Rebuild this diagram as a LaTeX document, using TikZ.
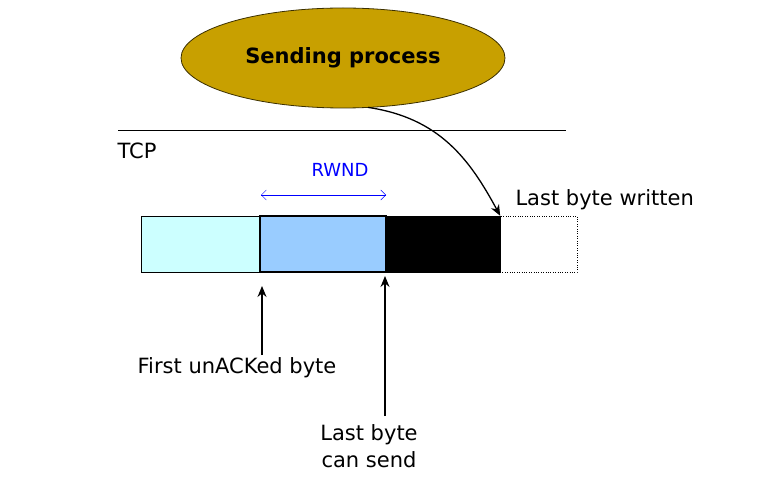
\documentclass[tikz,border=0pt]{standalone}
\usepackage{fontspec}
\setmainfont{DejaVu Sans}
\usetikzlibrary{shapes.geometric,arrows.meta}
\definecolor{gold}{RGB}{200,160,0}
\definecolor{lcyan}{RGB}{204,255,255}
\definecolor{lblue}{RGB}{153,204,255}
\tikzset{lbl/.style={font=\fontsize{21}{27}\selectfont,align=center},
  ptr/.style={-{Stealth[length=11pt,width=9pt]},line width=1.3pt}}
\begin{document}
\begin{tikzpicture}[x=1pt,y=-1pt]
\useasboundingbox (0,0) rectangle (768,486);
\node[ellipse,draw=black!70!gold,line width=0.8pt,fill=gold,minimum width=324pt,minimum height=100pt,font=\bfseries\fontsize{21}{25}\selectfont] (proc) at (343,58) {Sending process};
\coordinate (l1) at (118,131); \coordinate (l2) at (566,131);
\draw[line width=1pt] (l1) -- (l2);
\node[lbl,anchor=west] (tcp) at (114,151) {TCP};
\node[draw,fill=lcyan,minimum width=119pt,minimum height=56pt,inner sep=0pt] (b1) at (200.5,244) {};
\node[draw,fill=white,dotted,minimum width=77pt,minimum height=56pt,inner sep=0pt] (b4) at (538.5,244) {};
\node[draw,fill=black,minimum width=114pt,minimum height=56pt,inner sep=0pt] (b3) at (443,244) {};
\node[draw,line width=2pt,fill=lblue,minimum width=126pt,minimum height=56pt,inner sep=0pt] (b2) at (323,244) {};
\node[lbl,text=blue,font=\fontsize{18}{22}\selectfont] (rw) at (340,170) {RWND};
\coordinate (r1) at (261,195); \coordinate (r2) at (386,195);
\draw[{Straight Barb[length=5pt]}-{Straight Barb[length=5pt]},blue] (r1) -- (r2);
\node[lbl,anchor=west] (lbw) at (512,200) {Last byte written};
\draw[ptr] (proc.south) ++(25,-1) coordinate (c0) (c0) .. controls (440,118) and (470,160) .. (b3.north east);
\node[lbl] (fu) at (237,368) {First unACKed byte};
\coordinate (a1) at (262,355); \coordinate (a1t) at (262,286);
\draw[ptr] (a1) -- (a1t);
\node[lbl] (lb) at (369,446) {Last byte\\can send};
\coordinate (a2) at (385,416); \coordinate (a2t) at (385,276);
\draw[ptr] (a2) -- (a2t);
\end{tikzpicture}
\end{document}
